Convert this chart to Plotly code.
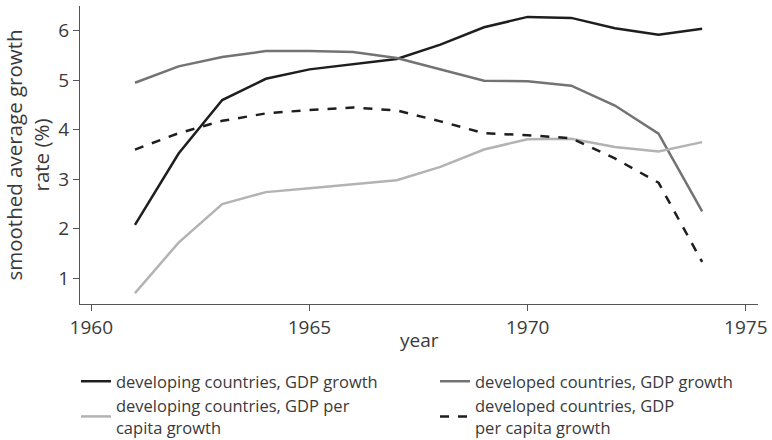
import plotly.graph_objects as go

years = list(range(1961, 1975))
developing_gdp = [2.08, 3.52, 4.60, 5.03, 5.22, 5.33, 5.43, 5.72, 6.07, 6.28, 6.26, 6.05, 5.92, 6.04]
developed_gdp = [4.95, 5.28, 5.47, 5.59, 5.59, 5.57, 5.45, 5.22, 4.99, 4.98, 4.89, 4.49, 3.92, 2.35]
developing_pc = [0.70, 1.72, 2.50, 2.74, 2.82, 2.90, 2.98, 3.25, 3.60, 3.81, 3.82, 3.65, 3.56, 3.75]
developed_pc = [3.60, 3.93, 4.18, 4.33, 4.40, 4.45, 4.39, 4.17, 3.93, 3.89, 3.83, 3.42, 2.93, 1.33]

x_ticks = [1960, 1965, 1970, 1975]
y_ticks = [1, 2, 3, 4, 5, 6]

FONT = "Open Sans, Roboto, Arial, sans-serif"
TXT = "#3a3a3a"

fig = go.Figure()
fig.add_trace(go.Scatter(x=years, y=developing_gdp, mode="lines", legend="legend",
                         name="developing countries, GDP growth",
                         line=dict(color="#1e1e1e", width=2.5)))
fig.add_trace(go.Scatter(x=years, y=developed_gdp, mode="lines", legend="legend2",
                         name="developed countries, GDP growth",
                         line=dict(color="#737373", width=2.5)))
fig.add_trace(go.Scatter(x=years, y=developing_pc, mode="lines", legend="legend",
                         name="developing countries, GDP per<br>capita growth",
                         line=dict(color="#b3b3b3", width=2.5)))
fig.add_trace(go.Scatter(x=years, y=developed_pc, mode="lines", legend="legend2",
                         name="developed countries, GDP<br>per capita growth",
                         line=dict(color="#1e1e1e", width=2.5, dash="dash")))

legend_common = dict(orientation="h", xref="container", yref="container",
                     xanchor="left", yanchor="top", y=0.1727, entrywidth=345,
                     font=dict(size=16.5, color=TXT), tracegroupgap=0, itemwidth=30,
                     bgcolor="rgba(0,0,0,0)")

fig.update_layout(
    width=772, height=440,
    margin=dict(l=80, r=14, t=6, b=136),
    paper_bgcolor="white", plot_bgcolor="white",
    font=dict(family=FONT, color=TXT, size=18),
    showlegend=True,
    legend=dict(x=0.0984, **legend_common),
    legend2=dict(x=0.5635, **legend_common),
    xaxis=dict(range=[1959.74, 1975.28], tickvals=x_ticks, showgrid=False, zeroline=False,
               showline=True, linecolor="#555555", linewidth=1.2, ticks="outside",
               ticklen=6, tickcolor="#555555", automargin=False,
               tickfont=dict(size=19)),
    yaxis=dict(range=[0.48, 6.5], tickvals=y_ticks, showgrid=False, zeroline=False,
               showline=True, linecolor="#555555", linewidth=1.2, ticks="outside",
               ticklen=6, tickcolor="#555555", automargin=False,
               title=dict(text="smoothed average growth<br>rate (%)", font=dict(size=20.5), standoff=3),
               tickfont=dict(size=19)),
    annotations=[dict(text="year", xref="paper", yref="paper", x=0.5, y=-0.1208,
                      xanchor="center", yanchor="middle", showarrow=False,
                      font=dict(size=19, color=TXT))],
)

fig.write_html("out.html", config={"displayModeBar": False},
               post_script="document.body.style.margin='0';document.body.style.overflow='hidden';")
